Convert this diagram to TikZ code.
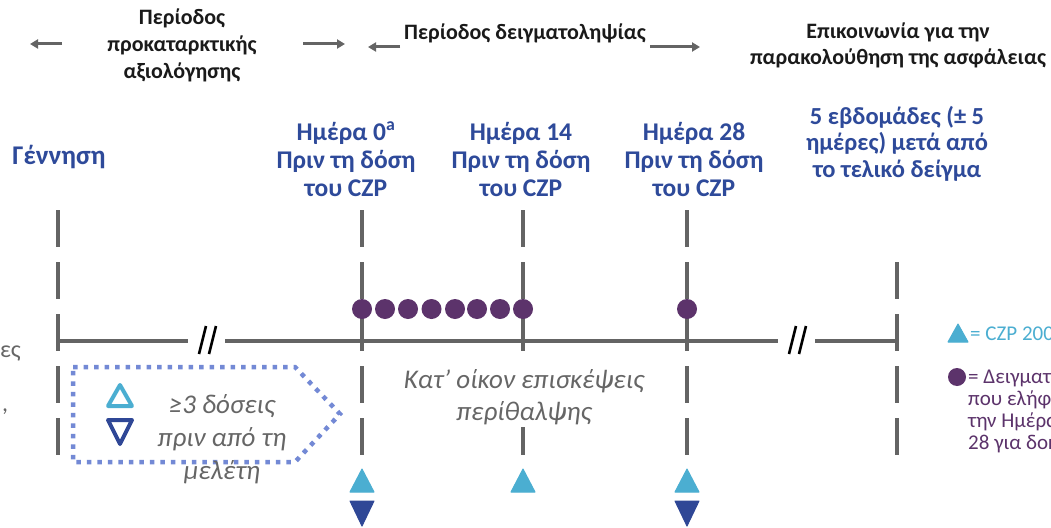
\documentclass[tikz,border=0pt]{standalone}
\usepackage{fontspec}
\setmainfont{Carlito}
\usetikzlibrary{arrows.meta}
\definecolor{lblblue}{HTML}{2E4A9A}
\definecolor{lightblue}{HTML}{4BAED1}
\definecolor{darkblue}{HTML}{2F4796}
\definecolor{dotpurple}{HTML}{5C336B}
\definecolor{linegray}{HTML}{646464}
\definecolor{dotline}{HTML}{7389D5}
\definecolor{itgray}{HTML}{666666}
\definecolor{txtblack}{HTML}{1A1A1A}
\tikzset{
  vline/.style={draw=linegray, line width=4pt, dash pattern=on 37pt off 15pt},
  hline/.style={draw=linegray, line width=4pt},
  brk/.style={draw=black, line width=2.6pt},
  toparrow/.style={draw=linegray, line width=3pt, -{Triangle[length=8pt,width=9pt]}},
  toplbl/.style={font=\fontsize{22}{27}\selectfont\bfseries, text=txtblack, align=center, anchor=base, inner sep=0pt},
  daylbl/.style={font=\fontsize{25.5}{28}\selectfont\bfseries, text=lblblue, align=center, anchor=base, inner sep=0pt},
  itlbl/.style={font=\fontsize{27}{32}\selectfont\itshape, text=itgray, align=center, anchor=base, inner sep=0pt},
  leglbl/.style={font=\fontsize{21}{21.7}\selectfont, align=left, anchor=base west, inner sep=0pt},
  sampdot/.style={fill=dotpurple},
  czpup/.style={fill=lightblue, draw=lightblue, line width=1pt, line join=round},
  czpdown/.style={fill=darkblue, draw=darkblue, line width=1pt, line join=round},
}
\begin{document}
\begin{tikzpicture}[x=1pt,y=-1pt]
\useasboundingbox (0,0) rectangle (1051,527);
\clip (0,0) rectangle (1051,527);
\fill[white] (0,0) rectangle (1051,527);

% time points
\coordinate (tb) at (58,341);
\coordinate (t0) at (362,341);
\coordinate (t14) at (523,341);
\coordinate (t28) at (687,341);
\coordinate (tf) at (897,341);

% vertical dashed lines
\draw[vline] (58,210) -- (58,455);
\draw[vline] (362,210) -- (362,455);
\draw[vline] (523,210) -- (523,455);
\draw[vline] (687,210) -- (687,455);
\draw[vline] (897,262) -- (897,455);

% horizontal timeline with breaks
\coordinate (b1a) at (188,341);
\coordinate (b1b) at (225,341);
\coordinate (b2a) at (778,341);
\coordinate (b2b) at (815,341);
\draw[hline] (tb) -- (b1a);
\draw[hline] (b1b) -- (b2a);
\draw[hline] (b2b) -- (tf);
\draw[brk] (199,354) -- (206,326);
\draw[brk] (209,354) -- (216,326);
\draw[brk] (789,354) -- (796,326);
\draw[brk] (799,354) -- (806,326);

% sample dots
\foreach \x in {362,385,408,431.5,455,477,500,523}
  \fill[sampdot] (\x,309) circle (10);
\fill[sampdot] (687,309) circle (10);

% CZP triangles
\foreach \x in {362,523,687}
  \filldraw[czpup] (\x-12,492) -- (\x+12,492) -- (\x,469) -- cycle;
\foreach \x in {362,687}
  \filldraw[czpdown] (\x-12,501) -- (\x+12,501) -- (\x,526) -- cycle;

% home visits text (white background hides line)
\node[itlbl, fill=white, inner sep=3pt] (home) at (524,420) {Κατ’ οίκον επισκέψεις\\περίθαλψης};

% dotted pentagon
\draw[dotline, line width=4.5pt, dash pattern=on 4.5pt off 6pt]
  (73,367) -- (295,367) -- (340,414) -- (295,462) -- (73,462) -- cycle;
\draw[lightblue, line width=4pt, line join=round] (108,406) -- (132,406) -- (120,385) -- cycle;
\draw[darkblue, line width=4pt, line join=round] (108,420) -- (132,420) -- (120,444) -- cycle;
\node[itlbl, font=\fontsize{27}{33}\selectfont\itshape] (prior) at (222,479) {≥3 δόσεις\\πριν από τη\\μελέτη};

% top period labels and arrows
\node[toplbl] (p1) at (182,78) {Περίοδος\\προκαταρκτικής\\αξιολόγησης};
\draw[toparrow] (62,44) -- (30,44);
\draw[toparrow] (303,44) -- (345,44);
\node[toplbl] (p2) at (525,39.5) {Περίοδος δειγματοληψίας};
\draw[toparrow] (400,47) -- (368,47);
\draw[toparrow] (650,47) -- (700,47);
\node[toplbl, font=\fontsize{22}{26}\selectfont\bfseries] (p3) at (898,64.5) {Επικοινωνία για την\\παρακολούθηση της ασφάλειας};

% time point labels
\node[daylbl, font=\fontsize{27}{28}\selectfont\bfseries] (lb) at (59,164) {Γέννηση};
\node[daylbl] (l0) at (346,196) {Ημέρα 0\textsuperscript{a}\\Πριν τη δόση\\του CZP};
\node[daylbl] (l14) at (521,196) {Ημέρα 14\\Πριν τη δόση\\του CZP};
\node[daylbl] (l28) at (694,196) {Ημέρα 28\\Πριν τη δόση\\του CZP};
\node[daylbl, font=\fontsize{24.5}{26.5}\selectfont\bfseries] (lf) at (897,177) {5 εβδομάδες (± 5\\ημέρες) μετά από\\το τελικό δείγμα};

% left cut-off fragments
\node[font=\fontsize{24}{26}\selectfont, text=itgray, anchor=base east, inner sep=0pt] (fr1) at (21,357) {ες};
\node[font=\fontsize{24}{26}\selectfont, text=itgray, anchor=base west, inner sep=0pt] (fr2) at (2,411) {,};

% legend (cut off at right edge)
\filldraw[czpup] (948,342) -- (968,342) -- (958,324) -- cycle;
\node[leglbl, text=lightblue] (lg1) at (970,340) {= CZP 200};
\fill[sampdot] (957,377) circle (9);
\node[leglbl, text=dotpurple] (lg2) at (968,449) {= Δειγματοληψίες\\που ελήφθησαν\\την Ημέρα 0 έως\\28 για δοκιμές};
\end{tikzpicture}
\end{document}
